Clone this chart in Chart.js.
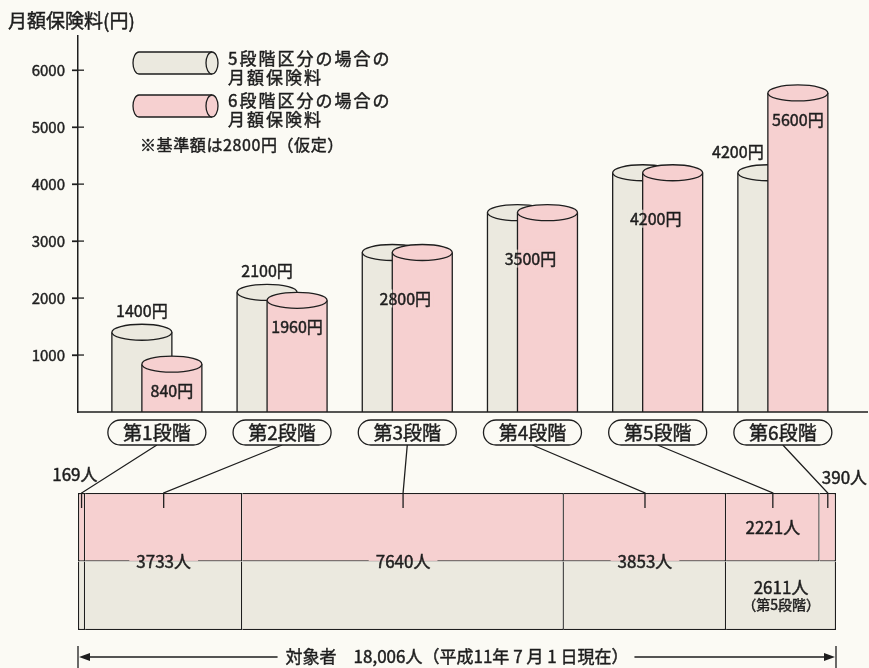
<!DOCTYPE html>
<html><head><meta charset="utf-8">
<script src="https://cdn.jsdelivr.net/npm/chart.js@4"></script>
<style>
html,body{margin:0;padding:0;background:#fbfaf4;}
#wrap{position:relative;width:869px;height:668px;overflow:hidden;}
canvas{position:absolute;left:0;top:0;}
</style></head>
<body><div id="wrap"><canvas id="c1" width="869" height="668"></canvas><canvas id="c2" width="869" height="668"></canvas></div>
<script>
// ---------- data ----------
const categories = ['第1段階','第2段階','第3段階','第4段階','第5段階','第6段階'];
const fee5 = [1400, 2100, 2800, 3500, 4200, 4200];   // 5段階区分の場合の月額保険料
const fee6 = [840, 1960, 2800, 3500, 4200, 5600];    // 6段階区分の場合の月額保険料
const yTicks = [1000, 2000, 3000, 4000, 5000, 6000];
const series5Name = ['5段階区分の場合の', '月額保険料'];
const series6Name = ['6段階区分の場合の', '月額保険料'];
const people6 = [169, 3733, 7640, 3853, 2221, 390];  // 6段階区分の人数
const people5 = [169, 3733, 7640, 3853, 2611];       // 5段階区分の人数
const yTitle = '月額保険料(円)';
const noteText = '※基準額は2800円（仮定）';
const dateText = '（平成11年 7 月 1 日現在）';
const totalPeople = people6.reduce((a, b) => a + b, 0);

// ---------- style ----------
const GREY = '#ebe9df', PINK = '#f6d0d0', INK = '#1e1e1e', BG = '#fbfaf4';
const FONT = '"Noto Sans CJK JP","Noto Sans",sans-serif';
Chart.defaults.font.family = FONT;
Chart.defaults.color = INK;

function txt(ctx, s, x, y, size, align = 'center', spacing = '0px') {
  ctx.save();
  ctx.font = `normal ${size}px ${FONT}`;
  ctx.fillStyle = INK; ctx.strokeStyle = INK; ctx.lineWidth = 0.45;
  ctx.textAlign = align; ctx.textBaseline = 'middle';
  try { ctx.letterSpacing = spacing; } catch (e) {}
  ctx.fillText(s, x, y);
  ctx.strokeText(s, x, y);
  ctx.restore();
}
function measure(ctx, s, size) {
  ctx.save(); ctx.font = `normal ${size}px ${FONT}`;
  const w = ctx.measureText(s).width; ctx.restore(); return w;
}
function drawCyl(ctx, cx, yTop, base, r, fill) {
  const ry = 8;
  ctx.save();
  ctx.fillStyle = fill; ctx.strokeStyle = INK; ctx.lineWidth = 1.3;
  ctx.fillRect(cx - r, yTop, 2 * r, base - yTop);
  ctx.beginPath();
  ctx.moveTo(cx - r, base); ctx.lineTo(cx - r, yTop);
  ctx.moveTo(cx + r, yTop); ctx.lineTo(cx + r, base);
  ctx.stroke();
  ctx.beginPath(); ctx.ellipse(cx, yTop, r, ry, 0, 0, Math.PI * 2);
  ctx.fill(); ctx.stroke();
  ctx.restore();
}
function drawHCyl(ctx, x, y, w, h, fill) {
  const rx = 6, ry = h / 2, cy = y + ry;
  ctx.save();
  ctx.fillStyle = fill; ctx.strokeStyle = INK; ctx.lineWidth = 1.3;
  ctx.beginPath();
  ctx.moveTo(x + w - rx, y);
  ctx.lineTo(x + rx, y);
  ctx.ellipse(x + rx, cy, rx, ry, 0, -Math.PI / 2, Math.PI / 2, true);
  ctx.lineTo(x + w - rx, y + h);
  ctx.fill(); ctx.stroke();
  ctx.beginPath(); ctx.ellipse(x + w - rx, cy, rx, ry, 0, 0, Math.PI * 2);
  ctx.fill(); ctx.stroke();
  ctx.restore();
}

// ---------- top chart: cylinder bars ----------
const cylPlugin = {
  id: 'cyl',
  afterDatasetsDraw(chart) {
    const ctx = chart.ctx;
    const fills = [GREY, PINK];
    chart.data.datasets.forEach((ds, di) => {
      chart.getDatasetMeta(di).data.forEach(el => {
        // the cylinder's half-width equals the library bar width (bars overlap by half)
        drawCyl(ctx, el.x, el.y, el.base, el.width, fills[di]);
      });
    });
  },
  afterDraw(chart) {
    const ctx = chart.ctx, ca = chart.chartArea, ys = chart.scales.y;
    const base = ys.getPixelForValue(0);
    ctx.save();
    ctx.strokeStyle = INK; ctx.lineWidth = 1.5;
    ctx.beginPath(); ctx.moveTo(ca.left, base); ctx.lineTo(ca.right, base); ctx.stroke();
    ctx.lineWidth = 1.3;
    yTicks.forEach(v => {
      const y = ys.getPixelForValue(v);
      ctx.beginPath(); ctx.moveTo(ca.left - 6, y); ctx.lineTo(ca.left + 6, y); ctx.stroke();
    });
    ctx.restore();

    // value labels
    const m0 = chart.getDatasetMeta(0).data, m1 = chart.getDatasetMeta(1).data;
    categories.forEach((c, i) => {
      const g = m0[i], p = m1[i];
      if (fee5[i] === fee6[i]) {
        const s = fee6[i] + '円';
        const x = (g.x + p.x) / 2 - 2, y = p.y + 46;
        const w = measure(ctx, s, 16) + 4;
        const split = p.x - p.width;
        ctx.save();
        ctx.fillStyle = GREY; ctx.fillRect(x - w / 2, y - 9, split - (x - w / 2), 18);
        ctx.fillStyle = PINK; ctx.fillRect(split + 0.8, y - 9, x + w / 2 - split, 18);
        ctx.restore();
        txt(ctx, s, x, y, 16);
      } else {
        const gx = fee5[i] > fee6[i] ? g.x : g.x - g.width;
        txt(ctx, fee5[i] + '円', gx, g.y - 21, 16);
        txt(ctx, fee6[i] + '円', p.x, p.y + 27, 16);
      }
    });

    // title, legend, note
    txt(ctx, yTitle, 8, 21, 19, 'left');
    drawHCyl(ctx, 133, 52, 85, 22, GREY);
    drawHCyl(ctx, 133, 95, 85, 22, PINK);
    txt(ctx, series5Name[0], 228, 59, 17, 'left', '2px');
    txt(ctx, series5Name[1], 228, 78, 17, 'left', '2px');
    txt(ctx, series6Name[0], 228, 101, 17, 'left', '2px');
    txt(ctx, series6Name[1], 228, 120, 17, 'left', '2px');
    txt(ctx, noteText, 140, 145, 16, 'left', '0.6px');
  }
};

const topChart = new Chart(document.getElementById('c1'), {
  type: 'bar',
  data: {
    datasets: [
      { label: series5Name.join(''), data: categories.map((c, i) => ({ x: i, y: fee5[i] })),
        backgroundColor: 'transparent', borderWidth: 0, barThickness: 30 },
      { label: series6Name.join(''), data: categories.map((c, i) => ({ x: i, y: fee6[i] })),
        backgroundColor: 'transparent', borderWidth: 0, barThickness: 30 }
    ]
  },
  options: {
    responsive: false, animation: false, events: [],
    layout: { padding: { left: 0, right: 1, top: 36, bottom: 256 } },
    plugins: { legend: { display: false }, tooltip: { enabled: false } },
    scales: {
      x: { type: 'linear', display: false, offset: false, grid: { offset: false }, min: -0.63, max: 5.68 },
      y: {
        type: 'linear', position: 'left', min: 0, max: 6600,
        afterBuildTicks: s => { s.ticks = yTicks.map(v => ({ value: v })); },
        afterFit: s => { s.width = 78; },
        border: { display: true, color: INK, width: 1.5 },
        grid: { drawOnChartArea: false, tickLength: 6, tickWidth: 1.3, tickColor: INK },
        ticks: { autoSkip: false, padding: 7, color: INK,
                 textStrokeColor: INK, textStrokeWidth: 0.45,
                 font: { size: 15, family: FONT },
                 callback: v => String(v) }
      }
    }
  },
  plugins: [cylPlugin]
});

// ---------- bottom chart: population strip ----------
const stripPlugin = {
  id: 'strip',
  afterDraw(chart) {
    const ctx = chart.ctx, xs = chart.scales.x;
    const tx = topChart.scales.x, base = topChart.scales.y.getPixelForValue(0);
    const pillTop = base + 8, pillH = 25, pillW = 98;
    ctx.save();
    ctx.strokeStyle = INK; ctx.lineWidth = 1.3;
    categories.forEach((c, i) => {
      const cx = tx.getPixelForValue(i);
      const el = chart.getDatasetMeta(i).data[0];
      const sx = (el.x + el.base) / 2, st = el.y - el.height / 2;
      ctx.beginPath();
      ctx.moveTo(cx, pillTop + pillH); ctx.lineTo(sx, st); ctx.lineTo(sx, st + 15);
      ctx.stroke();
      ctx.beginPath();
      ctx.roundRect(cx - pillW / 2, pillTop, pillW, pillH, pillH / 2);
      ctx.fillStyle = BG; ctx.fill(); ctx.stroke();
      txt(ctx, c, cx, pillTop + pillH / 2 + 0.5, 19);
    });
    ctx.restore();

    categories.forEach((c, i) => {
      const e6 = chart.getDatasetMeta(i).data[0];
      const e5 = chart.getDatasetMeta(i).data[1];
      const cx = (e6.x + e6.base) / 2, top6 = e6.y - e6.height / 2;
      const s6 = people6[i] + '人';
      if (Math.abs(e6.x - e6.base) < 40) {
        if (i === 0) txt(ctx, s6, cx + 16, top6 - 18, 17, 'right');
        else txt(ctx, s6, cx - 6, top6 - 15, 17, 'left');
      } else if (people5[i] === people6[i]) {
        const yb = e6.y + e6.height / 2;
        const w = measure(ctx, s6, 17) + 14;
        ctx.save();
        ctx.fillStyle = PINK; ctx.fillRect(cx - w / 2, yb - 9, w, 8.4);
        ctx.fillStyle = GREY; ctx.fillRect(cx - w / 2, yb + 0.6, w, 8.4);
        ctx.restore();
        txt(ctx, s6, cx, yb, 17);
      } else {
        txt(ctx, s6, cx, e6.y, 17);
        if (e5 && people5[i] != null) {
          const c5 = (e5.x + e5.base) / 2;
          txt(ctx, people5[i] + '人', c5, e5.y - 8, 17);
          txt(ctx, '（' + categories[i] + '）', c5, e5.y + 9, 14);
        }
      }
    });

    const x0 = xs.getPixelForValue(0), x1 = xs.getPixelForValue(totalPeople);
    const ay = 657;
    const label = '対象者　' + totalPeople.toLocaleString('en-US') + '人' + dateText;
    const tw = measure(ctx, label, 17);
    const mid = (x0 + x1) / 2;
    ctx.save();
    ctx.strokeStyle = INK; ctx.fillStyle = INK; ctx.lineWidth = 1.3;
    ctx.beginPath();
    ctx.moveTo(x0, ay - 11); ctx.lineTo(x0, ay + 11);
    ctx.moveTo(x1, ay - 11); ctx.lineTo(x1, ay + 11);
    ctx.moveTo(x0 + 8, ay); ctx.lineTo(mid - tw / 2 - 8, ay);
    ctx.moveTo(mid + tw / 2 + 6, ay); ctx.lineTo(x1 - 8, ay);
    ctx.stroke();
    ctx.beginPath(); ctx.moveTo(x0 + 1, ay); ctx.lineTo(x0 + 12, ay - 4); ctx.lineTo(x0 + 12, ay + 4); ctx.fill();
    ctx.beginPath(); ctx.moveTo(x1 - 1, ay); ctx.lineTo(x1 - 12, ay - 4); ctx.lineTo(x1 - 12, ay + 4); ctx.fill();
    ctx.restore();
    txt(ctx, label, mid, ay, 17);
  }
};

const strip = new Chart(document.getElementById('c2'), {
  type: 'bar',
  data: {
    labels: ['6段階区分', '5段階区分'],
    datasets: categories.map((c, i) => ({
      label: c,
      data: [people6[i], people5[i] != null ? people5[i] : null],
      backgroundColor: [PINK, GREY],
      borderColor: INK,
      borderSkipped: false,
      borderWidth: ctx => ctx.dataIndex === 0
        ? { top: 1.3, bottom: 1.3, left: ctx.datasetIndex === 0 ? 1.3 : 0, right: 1.3 }
        : { top: 0, bottom: 1.3, left: ctx.datasetIndex === 0 ? 1.3 : 0, right: 1.3 },
      inflateAmount: 0,
      barPercentage: 1, categoryPercentage: 1
    }))
  },
  options: {
    indexAxis: 'y', responsive: false, animation: false, events: [],
    layout: { padding: { left: 78, right: 33, top: 493, bottom: 38 } },
    plugins: { legend: { display: false }, tooltip: { enabled: false } },
    scales: {
      x: { stacked: true, display: false, min: 0, max: totalPeople },
      y: { stacked: true, display: false }
    }
  },
  plugins: [stripPlugin]
});
</script>
</body></html>
